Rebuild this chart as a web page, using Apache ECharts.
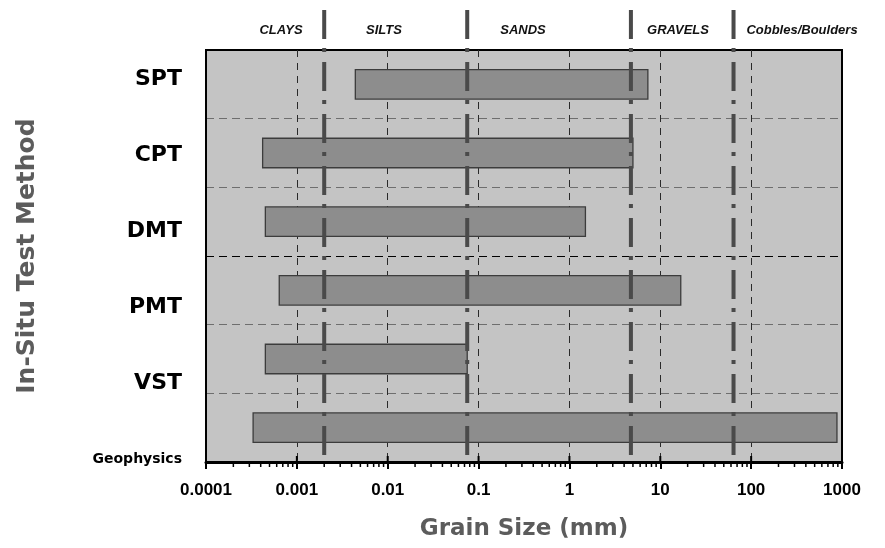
<!DOCTYPE html>
<html>
<head>
<meta charset="utf-8">
<script src="https://cdn.jsdelivr.net/npm/echarts@6/dist/echarts.min.js"></script>
<style>
html,body{margin:0;padding:0;background:#fff;}
#chart{width:885px;height:548px;}
</style>
</head>
<body>
<div id="chart"></div>
<script>
const categories = ['SPT', 'CPT', 'DMT', 'PMT', 'VST', 'Geophysics'];
const rangeMin = [0.0044, 0.00042, 0.00045, 0.00064, 0.00045, 0.00033];
const rangeMax = [7.3, 5.0, 1.5, 16.8, 0.075, 880];
const boundaryValues = [0.002, 0.075, 4.75, 64];
const soilClasses = ['CLAYS', 'SILTS', 'SANDS', 'GRAVELS', 'Cobbles/Boulders'];
const tickValues = [0.0001, 0.001, 0.01, 0.1, 1, 10, 100, 1000];
const tickLabels = ['0.0001', '0.001', '0.01', '0.1', '1', '10', '100', '1000'];
const minorMultipliers = [2, 3, 4, 5, 6, 7, 8, 9];

const chart = echarts.init(document.getElementById('chart'), null, {renderer: 'canvas'});

const soilLabelX = [281, 384, 523, 678, 802];

const option = {
  backgroundColor: '#ffffff',
  animation: false,
  grid: [
    {left: 206, top: 50, width: 636, height: 412, containLabel: false, outerBoundsMode: 'none',
     show: true, backgroundColor: '#c4c4c4', borderColor: '#000', borderWidth: 2},
    {left: 206, top: 79, width: 636, height: 380, containLabel: false, outerBoundsMode: 'none', show: false}
  ],
  xAxis: [
    {
      type: 'log', logBase: 10, min: 0.0001, max: 1000, splitNumber: 7, gridIndex: 0,
      name: 'Grain Size (mm)', nameLocation: 'middle', nameGap: 56,
      nameTextStyle: {fontFamily: 'DejaVu Sans', fontWeight: 'bold', fontSize: 23, color: '#5c5c5c'},
      axisLine: {show: true, onZero: false, lineStyle: {color: '#000', width: 3}},
      axisTick: {show: true, length: 7, lineStyle: {color: '#000', width: 2}},
      minorTick: {show: false},
      axisLabel: {
        margin: 20, color: '#000', fontFamily: 'Liberation Sans', fontWeight: 'bold', fontSize: 17,
        formatter: function (v) {
          const i = tickValues.findIndex(t => Math.abs(Math.log10(t) - Math.log10(v)) < 1e-6);
          return i >= 0 ? tickLabels[i] : '';
        }
      },
      splitLine: {show: true, showMinLine: false, showMaxLine: false, lineStyle: {color: '#2a2a2a', width: 1, type: [7, 6]}}
    },
    {type: 'value', gridIndex: 1, show: false, min: 0, max: 1}
  ],
  yAxis: [
    {
      type: 'category', data: categories, inverse: true, gridIndex: 0,
      name: 'In-Situ Test Method', nameLocation: 'middle', nameGap: 166, nameRotate: 90,
      nameTextStyle: {fontFamily: 'DejaVu Sans', fontWeight: 'bold', fontSize: 25, color: '#5c5c5c'},
      axisLine: {show: true, lineStyle: {color: '#000', width: 2}},
      axisTick: {show: false},
      axisLabel: {show: false},
      splitLine: {show: true, showMinLine: false, showMaxLine: false,
        lineStyle: {color: ['#6e6e6e', '#6e6e6e', '#000000', '#6e6e6e', '#6e6e6e'], width: 1, type: [8, 5]}}
    },
    {
      type: 'category', data: categories, inverse: true, gridIndex: 1, boundaryGap: false,
      axisLine: {show: false}, axisTick: {show: false}, splitLine: {show: false},
      axisLabel: {
        margin: 24, color: '#000', fontFamily: 'DejaVu Sans', fontWeight: 'bold', fontSize: 22,
        formatter: function (v) { return v === 'Geophysics' ? '{s|' + v + '}' : v; },
        rich: {s: {fontFamily: 'DejaVu Sans', fontWeight: 'bold', fontSize: 14, color: '#000'}}
      }
    }
  ],
  series: [
    {
      type: 'custom', name: 'ranges', xAxisIndex: 0, yAxisIndex: 0, z: 3,
      data: categories.map((c, i) => [rangeMin[i], rangeMax[i], i]),
      encode: {x: [0, 1], y: 2},
      renderItem: function (params, api) {
        const s = api.coord([api.value(0), api.value(2)]);
        const e = api.coord([api.value(1), api.value(2)]);
        const h = api.size([0, 1])[1] * 0.43;
        return {
          type: 'rect',
          shape: {x: s[0], y: s[1] - h / 2, width: e[0] - s[0], height: h},
          style: {fill: '#8d8d8d', stroke: '#3c3c3c', lineWidth: 1.3}
        };
      }
    },
    {
      type: 'custom', name: 'boundaries', xAxisIndex: 0, yAxisIndex: 0, z: 5, clip: false,
      data: boundaryValues.map(v => [v, 0]),
      encode: {x: 0, y: 1},
      renderItem: function (params, api) {
        const cs = params.coordSys;
        const x = api.coord([api.value(0), 0])[0];
        return {
          type: 'line',
          shape: {x1: x, y1: cs.y - 40, x2: x, y2: cs.y + cs.height - 4},
          style: {stroke: '#4a4a4a', lineWidth: 4, lineDash: [29, 9, 4, 10]}
        };
      }
    },
    {
      type: 'custom', name: 'minorTicks', xAxisIndex: 0, yAxisIndex: 0, z: 6, clip: false,
      data: [[1, 0]],
      encode: {x: 0, y: 1},
      renderItem: function (params, api) {
        const cs = params.coordSys;
        const yb = cs.y + cs.height;
        const children = [];
        tickValues.slice(0, -1).forEach(d => {
          minorMultipliers.forEach(m => {
            const x = api.coord([d * m, 0])[0];
            children.push({type: 'line', shape: {x1: x, y1: yb, x2: x, y2: yb + 5}, style: {stroke: '#000', lineWidth: 1.5}});
          });
        });
        tickValues.slice(1, -1).forEach(d => {
          const x = api.coord([d, 0])[0];
          children.push({type: 'line', shape: {x1: x, y1: yb - 6, x2: x, y2: yb}, style: {stroke: '#000', lineWidth: 2}});
        });
        return {type: 'group', children: children};
      }
    }
  ],
  graphic: soilClasses.map((t, i) => ({
    type: 'text', x: soilLabelX[i], y: 30, z: 10,
    style: {text: t, fill: '#111', font: 'italic bold 13px "Liberation Sans"', textAlign: 'center', textVerticalAlign: 'middle'}
  }))
};
chart.setOption(option);
</script>
</body>
</html>
